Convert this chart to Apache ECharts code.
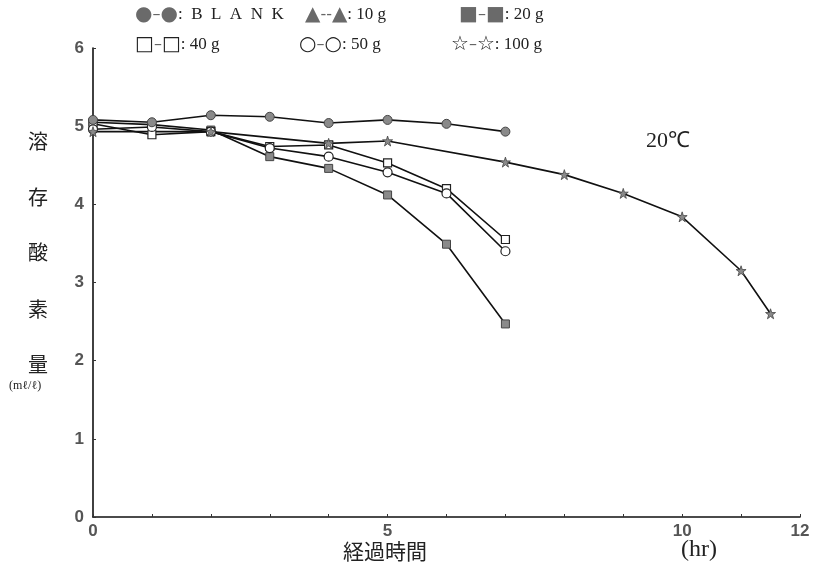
<!DOCTYPE html>
<html>
<head>
<meta charset="utf-8">
<script src="https://cdn.jsdelivr.net/npm/echarts@6/dist/echarts.min.js"></script>
<style>
html,body{margin:0;padding:0;background:#fff;}
#c{width:829px;height:572px;}
</style>
</head>
<body>
<div id="c"></div>
<script>
// ---- data ----
const hours = [0, 1, 2, 3, 4, 5, 6, 7];
const blank = [5.08, 5.05, 5.14, 5.12, 5.04, 5.08, 5.03, 4.93];
const g10 = []; // not distinguishable in the picture
const g20 = [5.05, 5.02, 4.95, 4.61, 4.46, 4.12, 3.49, 2.47];
const g40 = [5.03, 4.89, 4.93, 4.74, 4.76, 4.53, 4.20, 3.55];
const g50 = [4.96, 4.99, 4.93, 4.72, 4.61, 4.41, 4.14, 3.40];
const hours100 = [0, 2, 4, 5, 7, 8, 9, 10, 11, 11.5];
const g100 = [4.93, 4.93, 4.78, 4.81, 4.54, 4.38, 4.14, 3.84, 3.15, 2.60];
const xTickLabels = [0, 5, 10, 12];
const yTicks = [0, 1, 2, 3, 4, 5, 6];
const seriesNames = ['BLANK', '10 g', '20 g', '40 g', '50 g', '100 g'];
const yNameChars = ['溶', '存', '酸', '素', '量'];

const pair = (xs, ys) => ys.map((v, i) => [xs[i], v]);
const STAR = 'path://M50,2 L61,36 L97,36 L68,57 L79,92 L50,71 L21,92 L32,57 L3,36 L39,36 Z';

const chart = echarts.init(document.getElementById('c'));
const lineStyle = { color: '#111', width: 1.6 };
const gray = '#8a8a8a';

const rich = {
  s: { fontSize: 20, color: '#6a6a6a', fontFamily: 'DejaVu Sans' },
  o: { fontSize: 20, color: '#222', fontFamily: 'DejaVu Sans' },
  d: { fontSize: 16, color: '#666', fontFamily: 'DejaVu Sans' },
  t: { fontSize: 17, color: '#222', fontFamily: 'Liberation Serif' }
};
const legendText = {
  'BLANK': '{s|●}{d|–}{s|●}{t|:  B  L  A  N  K}',
  '10 g': '{s|▲}{d|--}{s|▲}{t|: 10 g}',
  '20 g': '{s|■}{d|–}{s|■}{t|: 20 g}',
  '40 g': '{o|□}{d|–}{o|□}{t|: 40 g}',
  '50 g': '{o|○}{d|–}{o|○}{t|: 50 g}',
  '100 g': '{o|☆}{d|–}{o|☆}{t|: 100 g}'
};
const legendPos = {
  'BLANK': [130, 5], '10 g': [300, 5], '20 g': [454, 5],
  '40 g': [130, 35], '50 g': [294, 35], '100 g': [446, 35]
};
const legends = seriesNames.map(n => ({
  data: [n], left: legendPos[n][0], top: legendPos[n][1],
  icon: 'none', itemWidth: 0, itemHeight: 0, itemGap: 0, padding: 0,
  selectedMode: false,
  formatter: name => legendText[name],
  textStyle: { rich: rich }
}));

const graphics = [];
yNameChars.forEach((ch, i) => {
  const ys = [142, 198, 253, 310, 365];
  graphics.push({ type: 'text', left: 28, top: ys[i] - 11,
    style: { text: ch, font: '20px "Noto Sans CJK JP"', fill: '#222' } });
});
graphics.push({ type: 'text', left: 9, top: 380,
  style: { text: '(mℓ/ℓ)', font: '12px "Liberation Serif"', fill: '#222' } });
graphics.push({ type: 'text', left: 343, top: 541,
  style: { text: '経過時間', font: '21px "Noto Sans CJK JP"', fill: '#222' } });
graphics.push({ type: 'text', left: 681, top: 538,
  style: { text: '(hr)', font: '24px "Liberation Serif"', fill: '#222' } });
graphics.push({ type: 'text', left: 646, top: 130,
  style: { text: '20℃', font: '22px "Liberation Serif"', fill: '#222' } });

chart.setOption({
  animation: false,
  backgroundColor: '#fff',
  grid: { left: 93, right: 29, top: 48, bottom: 55, containLabel: false },
  legend: legends,
  graphic: graphics,
  xAxis: {
    type: 'value', min: 0, max: 12, interval: 1,
    axisLine: { lineStyle: { color: '#111', width: 1.6 } },
    axisTick: { show: true, inside: true, length: 3, lineStyle: { color: '#333' } },
    splitLine: { show: false },
    axisLabel: {
      margin: 6, color: '#555', fontSize: 17, fontWeight: 'bold',
      fontFamily: 'Liberation Sans',
      formatter: v => xTickLabels.indexOf(v) >= 0 ? String(v) : ''
    }
  },
  yAxis: {
    type: 'value', min: 0, max: 6, interval: 1,
    axisLine: { show: true, lineStyle: { color: '#111', width: 1.6 } },
    axisTick: { show: true, inside: true, length: 3, lineStyle: { color: '#333' } },
    splitLine: { show: false },
    axisLabel: {
      margin: 9, color: '#555', fontSize: 17, fontWeight: 'bold',
      fontFamily: 'Liberation Sans',
      formatter: v => yTicks.indexOf(v) >= 0 ? String(v) : ''
    }
  },
  series: [
    { name: 'BLANK', type: 'line', data: pair(hours, blank), symbol: 'circle', symbolSize: 9,
      lineStyle: lineStyle, itemStyle: { color: gray, borderColor: '#444', borderWidth: 1 }, z: 5 },
    { name: '10 g', type: 'line', data: g10, symbol: 'triangle', symbolSize: 9,
      lineStyle: { color: '#111', width: 1.6, type: 'dashed' }, itemStyle: { color: gray } },
    { name: '20 g', type: 'line', data: pair(hours, g20), symbol: 'rect', symbolSize: 8,
      lineStyle: lineStyle, itemStyle: { color: gray, borderColor: '#444', borderWidth: 1 } },
    { name: '40 g', type: 'line', data: pair(hours, g40), symbol: 'rect', symbolSize: 8,
      lineStyle: lineStyle, itemStyle: { color: '#fff', borderColor: '#222', borderWidth: 1.2 } },
    { name: '50 g', type: 'line', data: pair(hours, g50), symbol: 'circle', symbolSize: 9,
      lineStyle: lineStyle, itemStyle: { color: '#fff', borderColor: '#222', borderWidth: 1.2 } },
    { name: '100 g', type: 'line', data: pair(hours100, g100), symbol: STAR, symbolSize: 10,
      lineStyle: lineStyle, itemStyle: { color: gray, borderColor: '#444', borderWidth: 0.8 } }
  ]
});
</script>
</body>
</html>
